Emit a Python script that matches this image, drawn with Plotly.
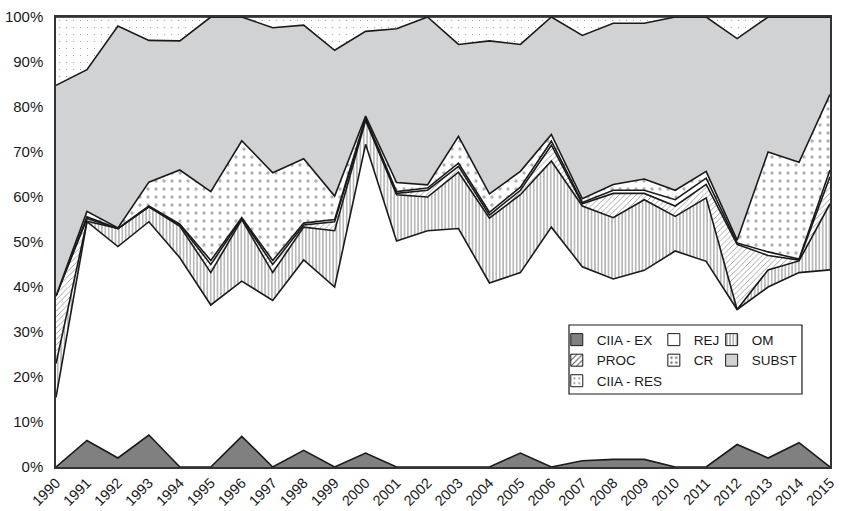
import plotly.graph_objects as go

# Shares (%) per year, stacked bottom to top
years = list(range(1990, 2016))

ciia_ex = [0, 5.9, 2, 7.1, 0, 0, 6.8, 0, 3.7, 0, 3.1, 0, 0, 0, 0, 3.1, 0, 1.4, 1.7, 1.7, 0, 0, 5, 2, 5.4, 0]
rej = [15.5, 48.6, 47, 47.4, 46.5, 36, 34.5, 37, 42.3, 40, 68.6, 50.2, 52.5, 53, 40.9, 40.1, 53.3, 43.1, 40.1, 42, 48, 45.7, 30, 38, 37.8, 43.8]
om = [7.5, 0.1, 4, 3.3, 7, 7.2, 13.7, 6.2, 7.3, 12.5, 5.3, 10.3, 7.5, 12.5, 14.4, 17.3, 14.7, 13.5, 13.6, 15.7, 7.7, 14.1, 0, 3.8, 2.6, 14.7]
proc = [15, 0.6, 0, 0, 0.3, 1.8, 0.2, 1.8, 0.5, 2, 0.3, 0.3, 1.5, 1.3, 0.7, 1, 3.5, 0.5, 5.4, 1.4, 2.3, 3, 14.5, 3.2, 0.2, 6]
other = [0, 0.4, 0, 0.2, 0.2, 0.9, 0.2, 0.9, 0.4, 0.5, 0.3, 0.4, 0.5, 0.7, 0.6, 0.7, 0.9, 0.3, 0.7, 0.7, 1.4, 1.4, 0.3, 0.8, 0.2, 1.5]
cr = [0, 1.2, 0.1, 5.3, 12, 15.3, 17.1, 19.5, 14.3, 5.2, 0.4, 2, 0.7, 6, 4.1, 3.5, 1.5, 0.8, 1.3, 2.5, 2.1, 1.5, 0.6, 22.2, 21.5, 16.8]
subst = [46.8, 31.5, 44.9, 31.5, 28.7, 38.8, 27.5, 32.2, 29.7, 32.4, 18.8, 34.2, 37.3, 20.4, 34, 28.2, 26.1, 36.3, 35.8, 34.6, 38.5, 34.3, 44.8, 30, 32.3, 17.2]
ciia_res = [15.2, 11.7, 2, 5.2, 5.3, 0, 0, 2.4, 1.8, 7.4, 3.2, 2.6, 0, 6.1, 5.3, 6.1, 0, 4.1, 1.4, 1.4, 0, 0, 4.8, 0, 0, 0]

y_ticks = list(range(0, 101, 10))
y_tick_labels = [f"{v}%" for v in y_ticks]

LINE = "#1a1a1a"
FONT = "Liberation Sans, Arial, sans-serif"

# fill styles: (bgcolor, pattern shape, pattern colour, pattern size, solidity)
styles = {
    "CIIA - EX": ("#808080", "", None, None, None),
    "REJ": ("#ffffff", "", None, None, None),
    "OM": ("#ffffff", "|", "#8c8c8c", 3.4, 0.3),
    "PROC": ("#ffffff", "/", "#9a9a9a", 4, 0.22),
    "Other": ("#ffffff", "", None, None, None),
    "CR": ("#ffffff", ".", "#b0b0b0", 8, 0.13),
    "SUBST": ("#d1d2d4", "", None, None, None),
    "CIIA - RES": ("#ffffff", ".", "#999999", 7, 0.025),
}

series = [
    ("CIIA - EX", ciia_ex),
    ("REJ", rej),
    ("OM", om),
    ("PROC", proc),
    ("Other", other),
    ("CR", cr),
    ("SUBST", subst),
    ("CIIA - RES", ciia_res),
]

fig = go.Figure()

for name, vals in series:
    bg, shape, fg, size, sol = styles[name]
    kw = dict(
        x=years, y=vals, name=name, mode="lines", stackgroup="one",
        line=dict(color=LINE, width=1.6), fillcolor=bg, showlegend=False,
        hoverinfo="skip",
    )
    if shape:
        kw["fillpattern"] = dict(shape=shape, bgcolor=bg, fgcolor=fg,
                                 size=size, solidity=sol, fillmode="replace")
    fig.add_trace(go.Scatter(**kw))

# legend entries laid out in three columns
columns = {
    "legend": ["CIIA - EX", "PROC", "CIIA - RES"],
    "legend2": ["REJ", "CR"],
    "legend3": ["OM", "SUBST"],
}
icon_patterns = {
    "OM": dict(shape="|", fgcolor="#777777", size=4, solidity=0.3),
    "PROC": dict(shape="/", fgcolor="#555555", size=5, solidity=0.25),
    "CR": dict(shape=".", fgcolor="#777777", size=6, solidity=0.2),
    "CIIA - RES": dict(shape=".", fgcolor="#777777", size=6, solidity=0.12),
}
for leg, names in columns.items():
    for name in names:
        bg = styles[name][0]
        marker = dict(color=bg, line=dict(color=LINE, width=1))
        if name in icon_patterns:
            marker["pattern"] = dict(bgcolor=bg, fillmode="replace",
                                     **icon_patterns[name])
        fig.add_trace(go.Bar(x=[None], y=[None], name=name, marker=marker,
                             legend=leg, showlegend=True))

leg_common = dict(bgcolor="rgba(0,0,0,0)", borderwidth=0, xanchor="left",
                  yanchor="top", font=dict(family=FONT, size=13.5, color="#1a1a1a"),
                  itemwidth=30, tracegroupgap=0, orientation="v",
                  traceorder="normal")

fig.update_layout(
    width=841, height=511,
    margin=dict(l=56, r=11, t=17, b=44, autoexpand=False),
    paper_bgcolor="white", plot_bgcolor="white",
    font=dict(family=FONT, size=15, color="#1a1a1a"),
    legend=dict(x=0.647, y=0.317, **leg_common),
    legend2=dict(x=0.7724, y=0.317, **leg_common),
    legend3=dict(x=0.8471, y=0.317, **leg_common),
    xaxis=dict(range=[1990, 2015], tickmode="linear", tick0=1990, dtick=1,
               tickangle=-45, showgrid=False, zeroline=False, automargin=False,
               showline=True, linecolor="#333333", linewidth=1.5, mirror=True,
               ticks="", ticklabelstandoff=0, tickfont=dict(size=14.5)),
    yaxis=dict(range=[0, 100], tickvals=y_ticks, ticktext=y_tick_labels,
               showgrid=False, zeroline=False, showline=True, automargin=False,
               linecolor="#333333", linewidth=1.5, mirror=True, ticks="",
               ticklabelstandoff=8, tickfont=dict(size=15)),
    shapes=[dict(type="rect", xref="paper", yref="paper",
                 x0=0.6628, x1=0.9638, y0=0.1622, y1=0.3156,
                 line=dict(color=LINE, width=1.2), fillcolor="white",
                 layer="above")],
    showlegend=True,
)

fig.write_html("out.html")
